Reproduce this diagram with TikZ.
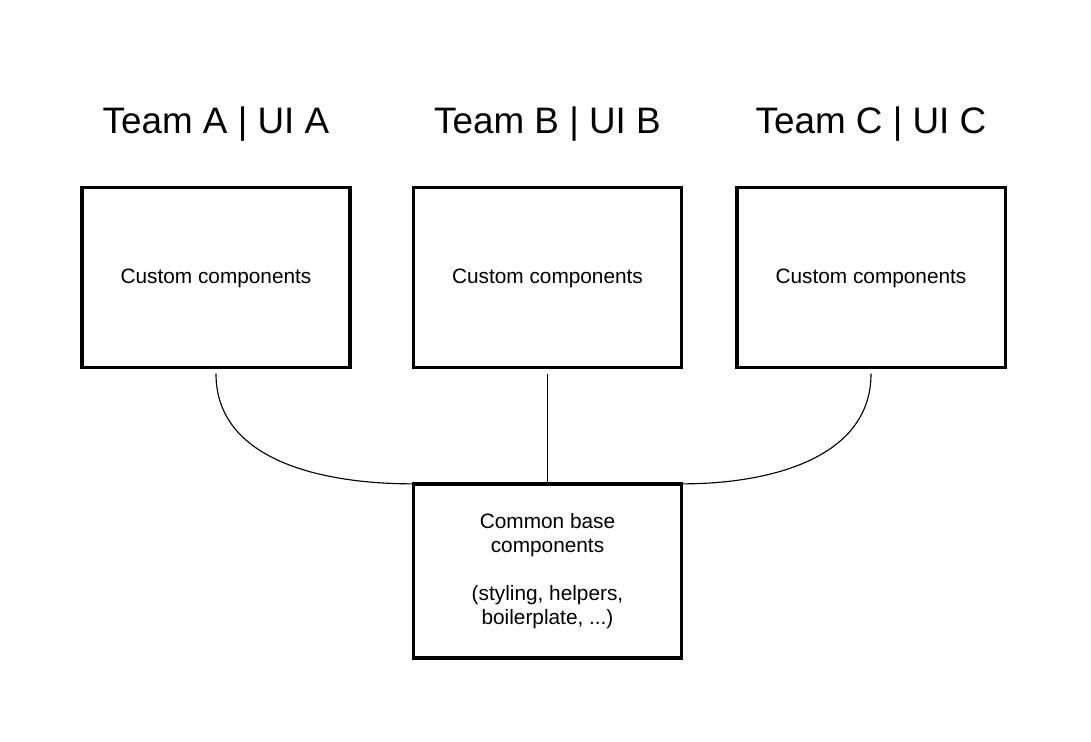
\documentclass[tikz,border=0pt]{standalone}
\usepackage{fontspec}
\setmainfont{Liberation Sans}
\usepackage{tikz}
\usetikzlibrary{positioning}

\begin{document}
\begin{tikzpicture}[x=0.025cm,y=-0.025cm,
      box/.style={rectangle,draw,line width=2.2pt,minimum width=6.7cm,minimum height=4.52cm,inner sep=0pt,align=center,font=\fontsize{14.8}{17}\selectfont},
      ttl/.style={anchor=base,font=\fontsize{26.2}{30}\selectfont},
      link/.style={line width=0.8pt}]
    \useasboundingbox (0,0) rectangle (1091,742);
    \node[box,minimum height=4.35cm] (base) at (547.5,571) {Common base\\components\\[17pt](styling, helpers,\\boilerplate, ...)};
    \foreach \t/\tx in {A/216,B/547.5,C/871} {
      \node[box,text depth=2pt] (ui\t) at (\tx,277.5) {Custom components};
      \node[ttl] (ttl\t) at (\tx,134) {Team \t\ |\ UI \t};
    }
    \draw[link] ([yshift=-3pt]uiA.south) to[out=-90,in=180] ([yshift=-1pt]base.north west);
    \draw[link] ([yshift=-3pt]uiB.south) -- (base.north);
    \draw[link] ([yshift=-3pt]uiC.south) to[out=-90,in=0] ([yshift=-1pt]base.north east);
  \end{tikzpicture}
\end{document}
